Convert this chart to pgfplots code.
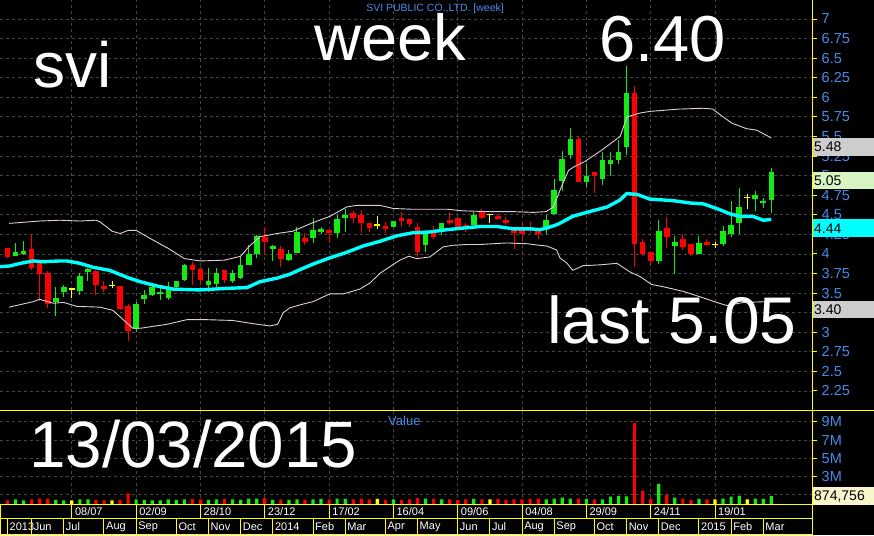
\documentclass[border=0pt]{standalone}
\usepackage{pgfplots}
\pgfplotsset{compat=1.18}
\usepackage{pgfplotstable}
\usepackage{fontspec}
\setmainfont{Liberation Sans}
\definecolor{lblue}{RGB}{70,140,235}
\definecolor{gridc}{RGB}{70,70,70}
\definecolor{cgreen}{RGB}{20,235,20}
\definecolor{cred}{RGB}{255,0,0}
\definecolor{cyel}{RGB}{255,255,0}
\definecolor{bandc}{RGB}{225,205,225}
\definecolor{macyan}{RGB}{0,255,255}
\definecolor{boxgrey}{RGB}{205,205,205}
\definecolor{boxgreen}{RGB}{215,245,195}
\definecolor{boxcream}{RGB}{250,245,205}

\pgfplotstableread{
i o h l c v
1 3.979 4.136 3.979 4.021 0.5
2 4.00 4.16 3.99 4.04 0.4
6 3.381 3.572 3.203 3.436 0.45
7 3.508 3.597 3.445 3.572 0.4
9 3.521 3.754 3.479 3.72 0.5
10 3.767 3.826 3.657 3.805 0.5
16 3.047 3.386 3.004 3.364 0.5
17 3.428 3.542 3.364 3.47 0.45
18 3.475 3.623 3.462 3.581 0.4
19 3.483 3.568 3.411 3.517 0.4
20 3.441 3.64 3.411 3.547 0.5
21 3.581 3.653 3.568 3.653 0.45
22 3.665 3.87 3.66 3.864 0.5
25 3.597 3.822 3.513 3.653 0.45
26 3.61 3.822 3.58 3.75 0.5
28 3.653 3.80 3.631 3.758 0.5
29 3.695 3.962 3.682 3.864 0.45
30 3.852 4.119 3.852 4.004 0.6
31 4.004 4.246 3.949 4.225 0.6
33 4.068 4.119 3.907 4.106 0.45
35 3.928 4.047 3.907 4.004 0.45
36 4.008 4.339 4.008 4.284 0.5
38 4.208 4.453 4.144 4.305 0.5
39 4.284 4.339 4.25 4.318 0.55
41 4.263 4.496 4.208 4.441 0.6
42 4.462 4.568 4.284 4.496 0.55
48 4.347 4.42 4.347 4.419 0.5
52 4.114 4.284 4.03 4.25 0.6
54 4.28 4.398 4.246 4.398 0.5
58 4.373 4.534 4.356 4.492 0.55
67 4.343 4.50 4.258 4.436 0.5
68 4.504 4.958 4.492 4.822 0.6
69 4.936 5.309 4.797 5.212 0.7
70 5.263 5.606 5.212 5.466 0.6
72 4.915 5.153 4.852 4.992 0.55
74 4.962 5.301 4.886 5.203 0.5
75 5.153 5.301 4.992 5.203 0.8
76 5.203 5.458 5.153 5.301 0.9
77 5.36 6.40 5.258 6.059 0.85
81 3.903 4.428 3.869 4.292 2.2
83 4.102 4.225 3.742 4.153 0.7
86 4.004 4.225 4.004 4.144 0.55
89 4.123 4.352 4.102 4.292 0.6
90 4.25 4.682 4.216 4.364 0.8
91 4.398 4.843 4.25 4.602 0.9
93 4.695 4.801 4.547 4.746 0.6
94 4.644 4.716 4.58 4.682 0.55
95 4.686 5.097 4.525 5.05 0.87
}\tup

\pgfplotstableread{
i o h l c v
0 4.072 4.08 3.945 3.966 0.4
3 4.064 4.25 3.797 3.818 0.5
4 3.89 3.90 3.394 3.742 0.6
5 3.754 3.784 3.309 3.364 0.6
11 3.788 3.79 3.479 3.606 0.45
12 3.585 3.648 3.508 3.55 0.4
14 3.585 3.59 3.288 3.30 0.45
15 3.33 3.364 2.886 3.013 1.17
23 3.864 3.894 3.597 3.792 0.55
24 3.809 3.835 3.597 3.665 0.5
27 3.80 3.80 3.631 3.665 0.55
32 4.216 4.343 4.004 4.148 0.65
34 4.064 4.106 3.835 3.941 0.5
37 4.208 4.271 4.114 4.157 0.45
40 4.305 4.31 4.136 4.263 0.5
43 4.517 4.551 4.398 4.462 0.5
44 4.496 4.559 4.263 4.39 0.6
45 4.39 4.39 4.284 4.326 0.5
47 4.356 4.411 4.263 4.318 0.45
49 4.462 4.53 4.347 4.419 0.45
50 4.441 4.441 4.347 4.377 0.5
51 4.339 4.39 3.966 4.03 0.65
53 4.263 4.356 4.186 4.22 0.55
55 4.436 4.534 4.364 4.398 0.5
56 4.462 4.462 4.343 4.343 0.45
57 4.373 4.398 4.28 4.343 0.5
59 4.534 4.568 4.441 4.462 0.5
61 4.479 4.513 4.428 4.441 0.55
62 4.436 4.47 4.364 4.398 0.45
63 4.343 4.343 4.059 4.271 0.5
64 4.322 4.407 4.186 4.258 0.5
65 4.343 4.407 4.271 4.30 0.55
66 4.314 4.314 4.186 4.258 0.6
71 5.466 5.50 4.924 4.924 0.6
73 5.051 5.051 4.78 5.0 0.5
78 6.059 6.144 3.835 4.123 8.9
79 4.153 4.186 3.975 3.996 1.4
80 4.03 4.03 3.86 3.911 0.6
82 4.326 4.47 4.081 4.216 1.0
84 4.186 4.258 4.047 4.089 0.6
85 4.123 4.123 3.975 4.004 0.45
87 4.153 4.186 4.114 4.114 0.5
}\tdown

\pgfplotstableread{
i o h l c v
8 3.55 3.55 3.436 3.55 0.4
13 3.593 3.657 3.564 3.593 0.4
46 4.369 4.483 4.318 4.369 0.55
60 4.504 4.504 4.398 4.504 0.5
88 4.123 4.153 4.072 4.123 0.5
92 4.716 4.771 4.568 4.716 0.5
}\tdoji

\pgfplotstableread{
i p
0.2 4.39
4 4.42
6.5 4.43
9 4.42
11 4.43
11.5 4.41
13 4.29
14 4.26
15 4.30
16 4.30
17.7 4.20
20 4.07
22 3.94
24 3.91
27 3.92
29 3.97
30 4.09
31.4 4.22
33.5 4.26
35.5 4.29
38 4.40
40.1 4.48
42.2 4.60
43.5 4.62
46.3 4.62
48 4.58
50.4 4.57
54.7 4.57
56.7 4.55
59.6 4.54
62.9 4.54
65.4 4.53
67 4.54
67.9 4.60
68.9 4.86
69.8 5.07
70.6 5.12
71.8 5.18
73.7 5.31
76.2 5.50
77.05 5.75
78.7 5.80
79.9 5.82
83.6 5.85
86.5 5.86
87.7 5.85
89 5.75
90.1 5.67
91.9 5.60
93.2 5.58
95 5.48
}\tupper

\pgfplotstableread{
i p
0.2 3.32
3.2 3.39
4 3.42
5.7 3.37
7 3.38
8.6 3.33
11.5 3.32
13.1 3.28
14.4 3.16
15.6 3.05
16.5 3.05
19.8 3.10
22.3 3.16
24.8 3.16
28 3.15
30.5 3.11
32.6 3.08
33.6 3.10
34.3 3.25
35.1 3.31
36.4 3.35
38 3.39
40.1 3.49
41.8 3.49
43.8 3.55
45.1 3.63
46.3 3.75
47.6 3.84
48.8 3.92
49.9 3.97
50.9 3.94
52.5 3.96
54.2 4.09
55.4 4.11
57.1 4.12
58.8 4.12
62.1 4.14
64.6 4.13
66.2 4.11
67.1 4.10
68.3 4.05
68.7 3.95
69.6 3.88
70.3 3.79
71.6 3.85
73.7 3.86
75.8 3.88
77.4 3.77
78.7 3.71
80.1 3.61
81.6 3.58
84.1 3.52
86.5 3.44
88.2 3.38
89.5 3.34
91.5 3.38
94.4 3.39
95 3.40
}\tlower

\pgfplotstableread{
i p
-0.93 3.837
0.3 3.846
1.6 3.88
3.2 3.91
4.4 3.90
6.5 3.91
7.4 3.91
9 3.88
10.6 3.83
12.7 3.79
14.9 3.70
16.5 3.645
18.6 3.59
20.6 3.55
23.9 3.54
27.3 3.56
29.8 3.57
31.4 3.645
33.5 3.69
35.1 3.74
36.4 3.80
38 3.87
40.1 3.95
42.2 4.02
44.2 4.10
46.3 4.16
48.4 4.23
50.4 4.27
52.5 4.28
54.7 4.31
56.7 4.33
58.8 4.35
60.9 4.35
62.9 4.32
65 4.32
66.2 4.31
67.1 4.33
68.5 4.38
70.3 4.48
72.4 4.54
74.6 4.60
76.2 4.69
77 4.77
78.3 4.76
79.9 4.70
82.8 4.68
84.9 4.65
86.5 4.64
88.2 4.58
89.9 4.51
91.1 4.48
92.7 4.48
94 4.43
95 4.44
}\tma

\pgfplotsset{
  wick/.style={#1, line width=1pt, mark=none, quiver={u=0, v=\thisrow{h}-\thisrow{l}}},
  body/.style={#1, line width=5.6pt, line cap=butt, mark=none, quiver={u=0, v=\thisrow{c}-\thisrow{o}}},
}

\begin{document}
\begin{tikzpicture}
\useasboundingbox (0,0) rectangle (874pt,-535pt);
\fill[black] (0,0) rectangle (874pt,-535pt);

% ---------------- price panel ----------------
\begin{axis}[
  at={(0pt,0pt)}, anchor=north west, scale only axis,
  width=812pt, height=410pt,
  xmin=-0.9328, xmax=100.0622, ymin=2.0064, ymax=7.2427,
  axis x line*=bottom, axis y line*=right,
  axis line style={draw=cyel, line width=1pt},
  xtick=\empty,
  extra x ticks={8,16,24,32,40,48,56,64,72,80,88},
  extra x tick labels={},
  extra x tick style={major tick length=0pt, xmajorgrids=true},
  ytick={2.25,2.5,2.75,3,3.25,3.5,3.75,4,4.25,4.5,4.75,5,5.25,5.5,5.75,6,6.25,6.5,6.75,7},
  ymajorgrids,
  major grid style={draw=gridc, dash pattern=on 3pt off 3pt, line width=0.8pt},
  tick style={draw=cyel, line width=1pt},
  major tick length=5pt, tick align=outside,
  yticklabel style={font=\fontsize{14.5}{14.5}\selectfont, text=lblue, anchor=west, inner sep=0pt, xshift=4.5pt},
  /pgf/number format/assume math mode=true,
]
\addplot[wick=cgreen] table[x=i, y=l] {\tup};
\addplot[wick=cred] table[x=i, y=l] {\tdown};
\addplot[wick=cyel] table[x=i, y=l] {\tdoji};
\addplot[body=cgreen] table[x=i, y=o] {\tup};
\addplot[body=cred] table[x=i, y=o] {\tdown};
\addplot[cyel, only marks, mark=-, mark size=3pt, mark options={line width=1.3pt}] table[x=i, y=o] {\tdoji};
\addplot[bandc, line width=0.9pt, mark=none] table[x=i, y=p] {\tupper};
\addplot[bandc, line width=0.9pt, mark=none] table[x=i, y=p] {\tlower};
\addplot[macyan, line width=3.4pt, mark=none] table[x=i, y=p] {\tma};
\end{axis}

% ---------------- volume panel ----------------
\begin{axis}[
  at={(0pt,-410pt)}, anchor=north west, scale only axis,
  width=812pt, height=94pt,
  xmin=-0.9328, xmax=100.0622, ymin=0, ymax=10.3,
  axis x line*=bottom, axis y line*=right,
  axis line style={draw=cyel, line width=1pt},
  xtick=\empty,
  extra x ticks={8,16,24,32,40,48,56,64,72,80,88},
  extra x tick labels={},
  extra x tick style={major tick length=0pt, xmajorgrids=true},
  ytick={1,3,5,7,9}, yticklabels={,3M,5M,7M,9M},
  ymajorgrids,
  major grid style={draw=gridc, dash pattern=on 3pt off 3pt, line width=0.8pt},
  tick style={draw=cyel, line width=1pt},
  major tick length=5pt, tick align=outside,
  yticklabel style={font=\fontsize{14.5}{14.5}\selectfont, text=lblue, anchor=west, inner sep=0pt, xshift=4.5pt},
]
\addplot[ybar, bar width=3.2pt, bar shift=0pt, fill=cgreen, draw=none] table[x=i, y=v] {\tup};
\addplot[ybar, bar width=3.2pt, bar shift=0pt, fill=cred, draw=none] table[x=i, y=v] {\tdown};
\addplot[ybar, bar width=3.2pt, bar shift=0pt, fill=cyel, draw=none] table[x=i, y=v] {\tdoji};
\end{axis}

% ---------------- frame lines ----------------
\draw[cyel, line width=1pt] (0,-410pt) -- (874pt,-410pt);
\draw[cyel, line width=1pt] (812pt,0) -- (812pt,-535pt);
\draw[cyel, line width=1pt] (0,-504pt) -- (812pt,-504pt);
\draw[cyel, line width=1pt] (0,-518pt) -- (812pt,-518pt);
\draw[cyel, line width=1pt] (0.5pt,-504pt) -- (0.5pt,-535pt);
\draw[cyel, line width=1pt] (0,-534.5pt) -- (812pt,-534.5pt);

% date row 1
\foreach \i/\t in {8/{08/07},16/{02/09},24/{28/10},32/{23/12},40/{17/02},48/{16/04},56/{09/06},64/{04/08},72/{29/09},80/{24/11},88/{19/01}}{
  \draw[cyel, line width=1pt] ({(7.5+8.04*\i)*1pt},-504pt) -- ++(0,-14pt);
  \node[anchor=west, inner sep=0pt, text=white, font=\fontsize{11}{11}\selectfont] at ({(7.5+8.04*\i)*1pt+3pt},-511.5pt) {\t};
}
% date row 2
\foreach \i/\t in {0/2013,3/Jun,7/Jul,12/Aug,16/Sep,21/Oct,25/Nov,29/Dec,33/2014,38/Feb,42/Mar,47/Apr,51/May,56/Jun,60/Jul,64/Aug,68/Sep,73/Oct,77/Nov,81/Dec,86/2015,90/Feb,94/Mar}{
  \draw[cyel, line width=1pt] ({(7.5+8.04*\i)*1pt},-518pt) -- ++(0,-17pt);
  \node[anchor=west, inner sep=0pt, text=white, font=\fontsize{11}{11}\selectfont] at ({(7.5+8.04*\i)*1pt+2pt},-527pt) {\t};
}

% value boxes on the right
\foreach \y/\c/\t in {138.0/boxgrey/5.48, 171.7/boxgreen/5.05, 219.4/macyan/4.44, 300.9/boxgrey/3.40, 487.0/boxcream/{874,756}}{
  \fill[\c] (812.5pt,-\y pt) rectangle (874pt,{-\y pt-17.5pt});
  \node[anchor=west, inner sep=0pt, text=black, font=\fontsize{14}{14}\selectfont] at (814pt,{-\y pt-9pt}) {\t};
}

% titles and big texts
\node[anchor=base, inner sep=0pt, text=lblue, font=\fontsize{10.5}{10.5}\selectfont] at (435pt,-12pt) {SVI PUBLIC CO.,LTD. [week]};
\node[anchor=base west, inner sep=0pt, text=lblue, font=\fontsize{13}{13}\selectfont] at (388pt,-425pt) {Value};
\node[anchor=base west, inner sep=0pt, text=white, font=\fontsize{64}{64}\selectfont] at (33pt,-87pt) {svi};
\node[anchor=base west, inner sep=0pt, text=white, font=\fontsize{65}{65}\selectfont] at (314pt,-60pt) {week};
\node[anchor=base west, inner sep=0pt, text=white, font=\fontsize{65}{65}\selectfont] at (599pt,-62pt) {6.40};
\node[anchor=base west, inner sep=0pt, text=white, font=\fontsize{66}{66}\selectfont] at (547pt,-343pt) {last 5.05};
\node[anchor=base west, inner sep=0pt, text=white, font=\fontsize{65.5}{65.5}\selectfont] at (29pt,-467pt) {13/03/2015};
\end{tikzpicture}
\end{document}
